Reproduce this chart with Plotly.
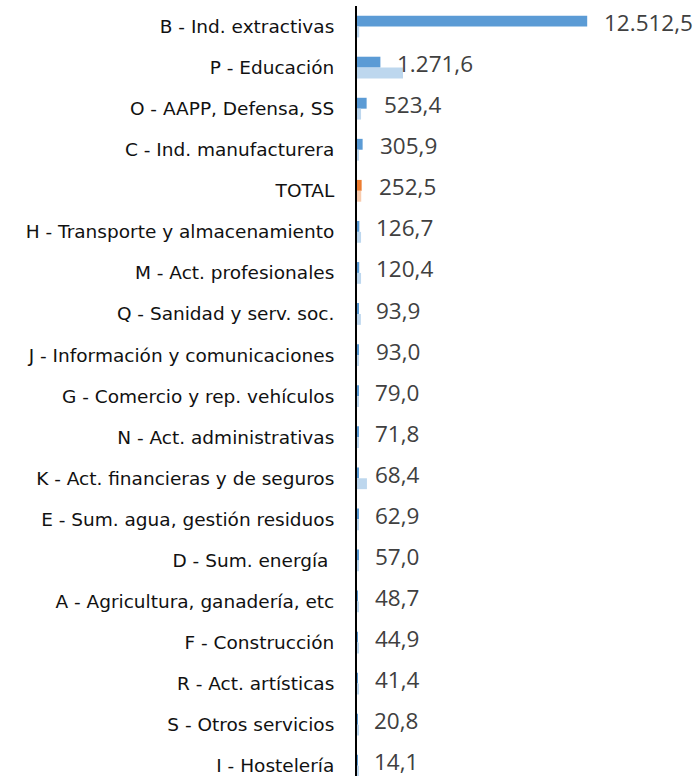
import plotly.graph_objects as go

categories = [
    "B - Ind. extractivas", "P - Educación", "O - AAPP, Defensa, SS",
    "C - Ind. manufacturera", "TOTAL", "H - Transporte y almacenamiento",
    "M - Act. profesionales", "Q - Sanidad y serv. soc.",
    "J - Información y comunicaciones", "G - Comercio y rep. vehículos",
    "N - Act. administrativas", "K - Act. financieras y de seguros",
    "E - Sum. agua, gestión residuos", "D - Sum. energía ",
    "A - Agricultura, ganadería, etc", "F - Construcción",
    "R - Act. artísticas", "S - Otros servicios", "I - Hostelería",
]
values_main = [12512.5, 1271.6, 523.4, 305.9, 252.5, 126.7, 120.4, 93.9, 93.0,
               79.0, 71.8, 68.4, 62.9, 57.0, 48.7, 44.9, 41.4, 20.8, 14.1]
values_prev = [120, 2500, 220, 110, 230, 220, 220, 210, 110,
               100, 100, 540, 70, 70, 60, 60, 60, 60, 60]

dark_colors = ["#ED7D31" if c == "TOTAL" else "#5B9BD5" for c in categories]
light_colors = ["#F8CBAD" if c == "TOTAL" else "#BDD7EE" for c in categories]


def fmt(v):
    s = f"{v:,.1f}"
    return s.replace(",", "X").replace(".", ",").replace("X", ".")


fig = go.Figure()
fig.add_trace(go.Bar(y=categories, x=values_main, orientation="h",
                     marker=dict(color=dark_colors, line=dict(width=0)),
                     hoverinfo="skip"))
fig.add_trace(go.Bar(y=categories, x=values_prev, orientation="h",
                     marker=dict(color=light_colors, line=dict(width=0)),
                     hoverinfo="skip"))

for c, v in zip(categories, values_main):
    fig.add_annotation(x=v, y=c, text=fmt(v), showarrow=False,
                       xanchor="left", yanchor="middle", xshift=15, yshift=4,
                       font=dict(family="Open Sans", size=22.5, color="#404040"))

fig.update_layout(
    width=700, height=776,
    margin=dict(l=357, r=0, t=6, b=0),
    barmode="group", bargap=0.47, bargroupgap=0,
    plot_bgcolor="white", paper_bgcolor="white",
    showlegend=False,
    xaxis=dict(range=[0, 18644], showgrid=False, zeroline=False,
               showticklabels=False, showline=False, fixedrange=True),
    yaxis=dict(categoryorder="array", categoryarray=categories,
               range=[18.25, -0.5], showgrid=False, zeroline=False,
               showline=True, linecolor="black", linewidth=2,
               ticks="", ticklabelstandoff=17, automargin=False,
               tickfont=dict(family="DejaVu Sans", size=18.5, color="#111111")),
)

fig.write_html("out.html", config={"displayModeBar": False},
               post_script="document.body.style.margin='0';"
                           "document.body.style.overflow='hidden';")
